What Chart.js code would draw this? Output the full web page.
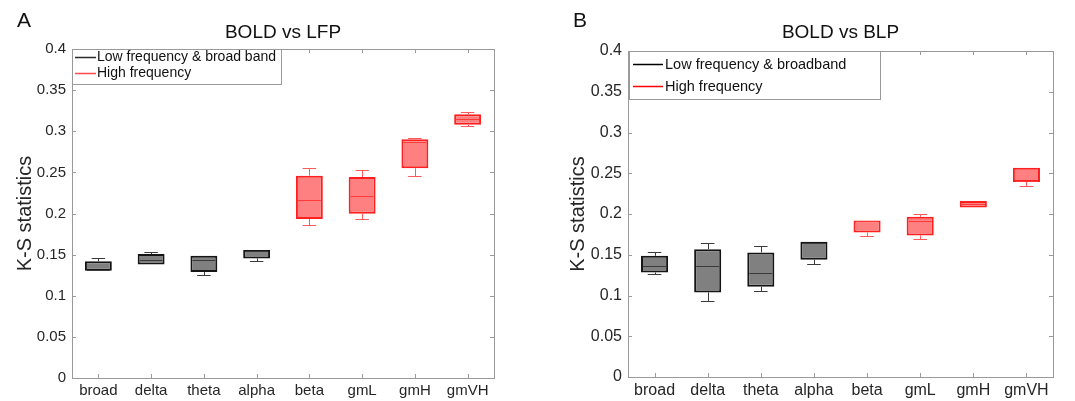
<!DOCTYPE html>
<html>
<head>
<meta charset="utf-8">
<script src="https://cdn.jsdelivr.net/npm/chart.js@4.4.1/dist/chart.umd.min.js"></script>
<style>
  html, body { margin: 0; padding: 0; background: #fff; }
  .panel { position: absolute; top: 0; }
</style>
</head>
<body>
<div class="panel" style="left:0"><canvas id="chartA" width="540" height="401"></canvas></div>
<div class="panel" style="left:540px"><canvas id="chartB" width="535" height="401"></canvas></div>
<script>
// categories & groups
const bands = ["broad", "delta", "theta", "alpha", "beta", "gmL", "gmH", "gmVH"];
const isHighFreq = [0, 0, 0, 0, 1, 1, 1, 1];
const legendLabelsA = ["Low frequency & broad band", "High frequency"];
const legendLabelsB = ["Low frequency & broadband", "High frequency"];
const yTickStep = 0.05;

// BOLD vs LFP (box stats)
const lfpLow  = [0.1303, 0.1375, 0.1250, 0.1426, 0.1856, 0.1929, 0.2453, 0.3062];
const lfpQ1   = [0.1303, 0.1381, 0.1290, 0.1454, 0.1933, 0.1998, 0.2550, 0.3078];
const lfpMed  = [0.1310, 0.1430, 0.1430, 0.1550, 0.2161, 0.2210, 0.2867, 0.3151];
const lfpQ3   = [0.1418, 0.1507, 0.1486, 0.1557, 0.2460, 0.2445, 0.2904, 0.3208];
const lfpHigh = [0.1454, 0.1534, 0.1498, 0.1557, 0.2558, 0.2526, 0.2920, 0.3228];

// BOLD vs BLP
const blpLow  = [0.1259, 0.0935, 0.1050, 0.1385, 0.1725, 0.1692, 0.2072, 0.2341];
const blpQ1   = [0.1283, 0.1038, 0.1107, 0.1440, 0.1774, 0.1737, 0.2080, 0.2394];
const blpMed  = [0.1364, 0.1364, 0.1275, 0.1650, 0.1915, 0.1909, 0.2124, 0.2400];
const blpQ3   = [0.1487, 0.1569, 0.1529, 0.1661, 0.1921, 0.1965, 0.2161, 0.2566];
const blpHigh = [0.1529, 0.1639, 0.1610, 0.1661, 0.1921, 0.1994, 0.2173, 0.2566];

const FONT = "'Liberation Sans', Arial, Helvetica, sans-serif";
const TEXT = "#262626";
const AXIS = "#9a9a9a";

const styles = {
  low:  { fill: "#808080", border: "#151515", whisker: "#3a3a3a", median: "#3a3a3a" },
  high: { fill: "#ff8080", border: "#ff1f1f", whisker: "#ff5a5a", median: "#ff3a3a" }
};

function px(v) { return Math.round(v) + 0.5; }

const boxExtras = {
  id: "boxExtras",
  afterDatasetsDraw(chart, args, o) {
    const { ctx } = chart;
    const y = chart.scales.y;
    const meta = chart.getDatasetMeta(0);
    ctx.save();
    ctx.lineWidth = 1;
    meta.data.forEach((bar, i) => {
      const st = isHighFreq[i] ? styles.high : styles.low;
      const cx = bar.x, half = bar.width / 2, cap = bar.width / 4;
      const yq1 = y.getPixelForValue(o.q1[i]), yq3 = y.getPixelForValue(o.q3[i]);
      const ylo = y.getPixelForValue(o.low[i]), yhi = y.getPixelForValue(o.high[i]);
      ctx.strokeStyle = st.whisker;
      ctx.beginPath();
      if (yhi < yq3 - 1) {
        ctx.moveTo(px(cx), yq3); ctx.lineTo(px(cx), px(yhi));
        ctx.moveTo(cx - cap, px(yhi)); ctx.lineTo(cx + cap, px(yhi));
      }
      if (ylo > yq1 + 1) {
        ctx.moveTo(px(cx), yq1); ctx.lineTo(px(cx), px(ylo));
        ctx.moveTo(cx - cap, px(ylo)); ctx.lineTo(cx + cap, px(ylo));
      }
      ctx.stroke();
      const ym = y.getPixelForValue(o.med[i]);
      ctx.strokeStyle = st.median;
      ctx.beginPath();
      ctx.moveTo(cx - half + 2, px(ym)); ctx.lineTo(cx + half - 2, px(ym));
      ctx.stroke();
    });
    ctx.restore();
  },
  afterDraw(chart, args, o) {
    const { ctx, chartArea: a } = chart;
    const x = chart.scales.x, y = chart.scales.y;
    ctx.save();
    // axes box + inward ticks
    ctx.strokeStyle = AXIS;
    ctx.lineWidth = 1;
    ctx.strokeRect(px(a.left), px(a.top), Math.round(a.right - a.left), Math.round(a.bottom - a.top));
    ctx.beginPath();
    y.ticks.forEach(t => {
      const yy = px(y.getPixelForValue(t.value));
      ctx.moveTo(a.left, yy); ctx.lineTo(a.left + 4, yy);
      ctx.moveTo(a.right - 4, yy); ctx.lineTo(a.right, yy);
    });
    bands.forEach((b, i) => {
      const xx = px(x.getPixelForValue(i));
      ctx.moveTo(xx, a.bottom); ctx.lineTo(xx, a.bottom - 4);
      ctx.moveTo(xx, a.top); ctx.lineTo(xx, a.top + 4);
    });
    ctx.stroke();

    // legend
    const L = o.legend;
    const lx = a.left + L.dx, ly = a.top;
    ctx.fillStyle = "#fff";
    ctx.fillRect(lx, ly, L.w, L.h);
    ctx.strokeStyle = AXIS;
    ctx.strokeRect(px(lx), px(ly), Math.round(L.w), Math.round(L.h));
    ctx.font = L.size + "px " + FONT;
    ctx.textBaseline = "middle";
    ctx.textAlign = "left";
    o.labels.forEach((lab, k) => {
      const ry = ly + L.rows[k];
      ctx.strokeStyle = L.colors[k];
      ctx.lineWidth = 1.5;
      ctx.beginPath();
      ctx.moveTo(lx + L.line[0], ry); ctx.lineTo(lx + L.line[1], ry);
      ctx.stroke();
      ctx.fillStyle = "#111";
      ctx.fillText(lab, lx + L.textX, ry);
    });

    // title and panel letter
    ctx.fillStyle = "#111";
    ctx.textAlign = "center";
    ctx.font = "19px " + FONT;
    ctx.fillText(o.title, (a.left + a.right) / 2, o.titleY);
    ctx.font = "21px " + FONT;
    ctx.fillText(o.letter, o.letterX, 21);
    ctx.restore();
  }
};

function makeBoxChart(id, s) {
  const colors = isHighFreq.map(h => (h ? styles.high : styles.low));
  return new Chart(document.getElementById(id), {
    type: "bar",
    data: {
      labels: bands,
      datasets: [{
        data: s.q1.map((v, i) => [v, s.q3[i]]),
        backgroundColor: colors.map(c => c.fill),
        borderColor: colors.map(c => c.border),
        borderWidth: 2,
        borderSkipped: false,
        barPercentage: 0.51,
        categoryPercentage: 1
      }]
    },
    options: {
      responsive: false,
      animation: false,
      layout: { padding: { left: 0, right: s.padRight, top: s.padTop, bottom: 0 } },
      plugins: {
        legend: { display: false },
        tooltip: { enabled: false },
        boxExtras: s
      },
      scales: {
        x: {
          type: "category",
          offset: true,
          grid: { display: false, drawTicks: false },
          border: { display: false },
          ticks: { color: TEXT, padding: 4, font: { family: FONT, size: s.tickSize } },
          afterFit: sc => { sc.height = s.xHeight; }
        },
        y: {
          min: 0,
          max: 0.4,
          grid: { display: false, drawTicks: false },
          border: { display: false },
          ticks: {
            stepSize: yTickStep,
            color: TEXT,
            padding: 6,
            font: { family: FONT, size: s.tickSize },
            callback: v => String(parseFloat(v.toFixed(2)))
          },
          title: {
            display: true,
            text: "K-S statistics",
            color: TEXT,
            font: { family: FONT, size: 20 },
            padding: { top: s.yTitlePad, bottom: 0 }
          },
          afterFit: sc => { sc.width = s.yWidth; }
        }
      }
    },
    plugins: [boxExtras]
  });
}

makeBoxChart("chartA", {
  low: lfpLow, q1: lfpQ1, med: lfpMed, q3: lfpQ3, high: lfpHigh,
  labels: legendLabelsA, title: "BOLD vs LFP", letter: "A",
  padRight: 46, padTop: 49, xHeight: 23, yWidth: 72, yTitlePad: 13, tickSize: 15,
  titleY: 33, letterX: 24,
  legend: { dx: 0, w: 209, h: 35, size: 14, rows: [8.5, 24.5], line: [3, 24], textX: 25,
            colors: ["#2a2a2a", "#ff4a4a"] }
});

makeBoxChart("chartB", {
  low: blpLow, q1: blpQ1, med: blpMed, q3: blpQ3, high: blpHigh,
  labels: legendLabelsB, title: "BOLD vs BLP", letter: "B",
  padRight: 22, padTop: 51, xHeight: 24, yWidth: 88, yTitlePad: 26, tickSize: 16,
  titleY: 33, letterX: 40,
  legend: { dx: 1, w: 251, h: 48, size: 14.5, rows: [13.5, 35.5], line: [4, 34], textX: 36,
            colors: ["#000000", "#ff0000"] }
});
</script>
</body>
</html>
